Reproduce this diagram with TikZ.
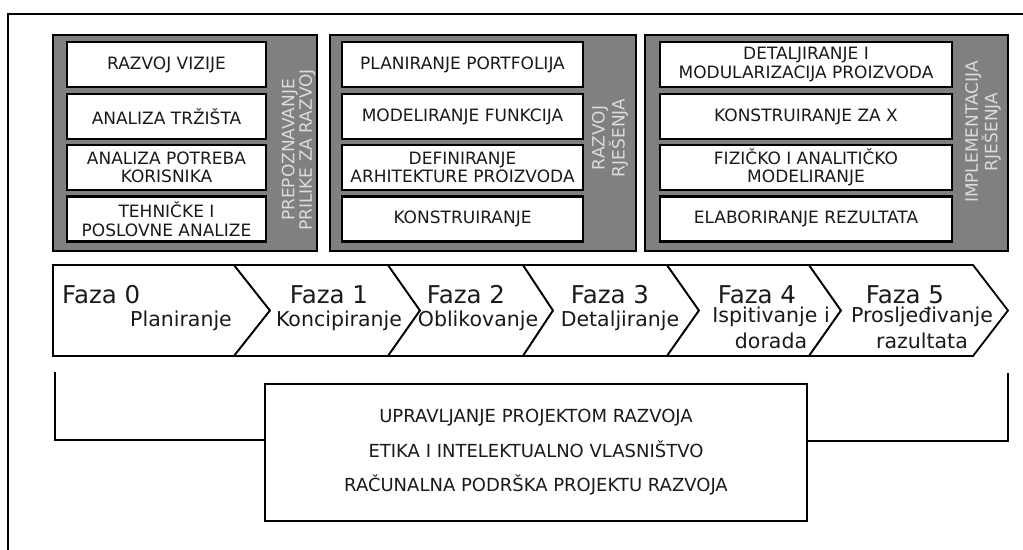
\documentclass[tikz,border=0pt]{standalone}
\usepackage{fontspec}
\setmainfont{DejaVu Sans}
\definecolor{panelgray}{HTML}{808080}
\definecolor{vtext}{HTML}{DCDCDC}
\definecolor{ink}{HTML}{1A1A1A}
\begin{document}
\begin{tikzpicture}[x=1pt,y=-1pt,
  frame/.style={draw=black,line width=2pt},
  panel/.style={draw=black,fill=panelgray,line width=1.6pt,minimum width=#1,minimum height=216pt,inner sep=0pt},
  wbox/.style={draw=black,fill=white,line width=2.2pt,align=center,inner sep=0pt,
    text=ink,font=\fontsize{17}{18.5}\selectfont,minimum width=#1,minimum height=45pt},
  vlabel/.style={rotate=90,text=vtext,align=center,inner sep=0pt,font=\fontsize{17}{17.5}\selectfont},
  chev/.style={draw=black,fill=white,line width=1.8pt,line join=miter},
  faza/.style={anchor=base,inner sep=0pt,text=ink,font=\fontsize{24.5}{26}\selectfont},
  sub/.style={anchor=base,inner sep=0pt,text=ink,align=center,font=\fontsize{20.5}{26}\selectfont},
  mgmtbox/.style={draw=black,fill=white,line width=2pt,align=center,inner sep=0pt,text=ink,
    font=\fontsize{18}{34.5}\selectfont,minimum width=542pt,minimum height=137pt},
  bracket/.style={draw=black,line width=2pt}]
\useasboundingbox (0,0) rectangle (1023,549);
% outer frame (only left and top edges visible)
\draw[frame] (8,560) -- (8,14) -- (1040,14);

% panels
\node[panel=264pt] (p1) at (185,143) {};
\node[panel=306pt] (p2) at (483,143) {};
\node[panel=363pt] (p3) at (826.5,143) {};

% panel 1 boxes
\node[wbox=199pt] (a1) at (166.5,64.5) {RAZVOJ VIZIJE};
\node[wbox=199pt] (a2) at (166.5,116.5) {ANALIZA TRŽIŠTA};
\node[wbox=199pt] (a3) at (166.5,167.5) {ANALIZA POTREBA\\KORISNIKA};
\node[wbox=199pt] (a4) at (166.5,219) {TEHNIČKE I\\POSLOVNE ANALIZE};
\node[vlabel] (l1) at (298.5,150) {PREPOZNAVANJE\\PRILIKE ZA RAZVOJ};

% panel 2 boxes
\node[wbox=241pt] (b1) at (462.5,64.5) {PLANIRANJE PORTFOLIJA};
\node[wbox=241pt] (b2) at (462.5,116.5) {MODELIRANJE FUNKCIJA};
\node[wbox=241pt] (b3) at (462.5,167.5) {DEFINIRANJE\\ARHITEKTURE PROIZVODA};
\node[wbox=241pt] (b4) at (462.5,219) {KONSTRUIRANJE};
\node[vlabel] (l2) at (610,138) {RAZVOJ\\RJEŠENJA};

% panel 3 boxes
\node[wbox=292pt] (c1) at (806,64.5) {DETALJIRANJE I\\MODULARIZACIJA PROIZVODA};
\node[wbox=292pt] (c2) at (806,116.5) {KONSTRUIRANJE ZA X};
\node[wbox=292pt] (c3) at (806,167.5) {FIZIČKO I ANALITIČKO\\MODELIRANJE};
\node[wbox=292pt] (c4) at (806,219) {ELABORIRANJE REZULTATA};
\node[vlabel,font=\fontsize{17}{19.5}\selectfont] (l3) at (983,132) {IMPLEMENTACIJA\\RJEŠENJA};

% chevrons
\draw[chev] (53,265) -- (234,265) -- (270,310.5) -- (234,356) -- (53,356) -- cycle;
\draw[chev] (234,265) -- (388,265) -- (420,310.5) -- (388,356) -- (234,356) -- (270,310.5) -- cycle;
\draw[chev] (388,265) -- (523,265) -- (553,310.5) -- (523,356) -- (388,356) -- (420,310.5) -- cycle;
\draw[chev] (523,265) -- (667,265) -- (699,310.5) -- (667,356) -- (523,356) -- (553,310.5) -- cycle;
\draw[chev] (667,265) -- (809,265) -- (841,310.5) -- (809,356) -- (667,356) -- (699,310.5) -- cycle;
\draw[chev] (809,265) -- (973,265) -- (1008,310.5) -- (973,356) -- (809,356) -- (841,310.5) -- cycle;

% phase labels
\node[faza,anchor=base west] (f0) at (62,303) {Faza 0};
\node[sub] (s0) at (181,326) {Planiranje};
\node[faza] (f1) at (329,303) {Faza 1};
\node[sub] (s1) at (339,326) {Koncipiranje};
\node[faza] (f2) at (466,303) {Faza 2};
\node[sub] (s2) at (478,326) {Oblikovanje};
\node[faza] (f3) at (610,303) {Faza 3};
\node[sub] (s3) at (620,326) {Detaljiranje};
\node[faza] (f4) at (757,303) {Faza 4};
\node[sub] (s4) at (771,348) {Ispitivanje i\\dorada};
\node[faza] (f5) at (905,303) {Faza 5};
\node[sub] (s5) at (922,348) {Prosljeđivanje\\razultata};

% management box and bracket
\node[mgmtbox] (mgmt) at (536,452.5) {UPRAVLJANJE PROJEKTOM RAZVOJA\\ETIKA I INTELEKTUALNO VLASNIŠTVO\\RAČUNALNA PODRŠKA PROJEKTU RAZVOJA};
\coordinate (bl) at (55,372);
\coordinate (br) at (1008,373);
\draw[bracket] (bl) |- ([yshift=12.5pt]mgmt.west);
\draw[bracket] (br) |- ([yshift=11.5pt]mgmt.east);
\end{tikzpicture}
\end{document}
